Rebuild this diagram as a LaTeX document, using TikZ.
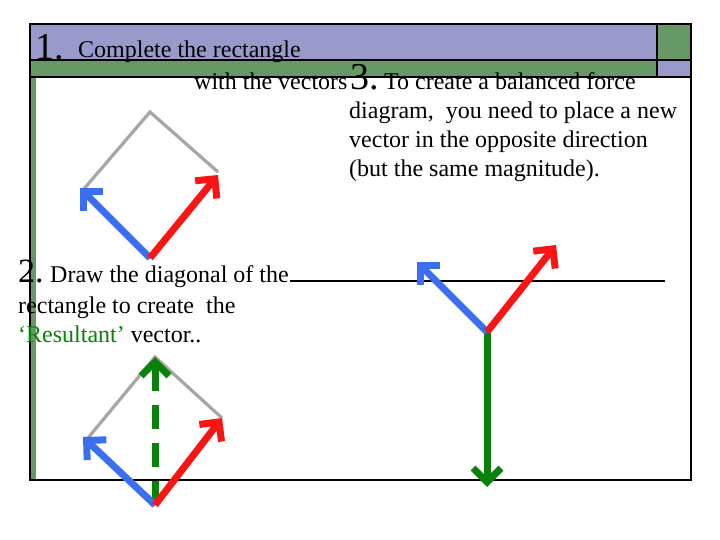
\documentclass[tikz,border=0pt]{standalone}
\usepackage{fontspec}
\setmainfont{Liberation Serif}
\usetikzlibrary{arrows.meta}
\definecolor{purp}{RGB}{153,153,204}
\definecolor{grn}{RGB}{102,153,102}
\definecolor{vblue}{RGB}{60,110,240}
\definecolor{vred}{RGB}{250,20,20}
\definecolor{vgreen}{RGB}{10,130,10}
\begin{document}
\begin{tikzpicture}[x=1pt,y=-1pt,
  tip/.style={-{Straight Barb[length=14pt,width=28pt,line width=7pt]}},
  vec/.style={line width=7pt,tip},
  edge/.style={draw=gray!70,line width=3.2pt},
  txt/.style={inner sep=0pt,anchor=base west,font=\fontsize{24}{26}\selectfont}]
\useasboundingbox (0,0) rectangle (720,540);
\fill[white] (0,0) rectangle (720,540);
\fill[purp] (30,24) rectangle (657,60);
\fill[grn] (657,24) rectangle (691,60);
\fill[grn] (30,60) rectangle (657,77);
\fill[purp] (657,60) rectangle (691,77);
\fill[grn] (30,77) rectangle (36,480);
\draw[line width=2.5pt] (30,24) rectangle (691,77);
\draw[line width=2.5pt] (30,60) -- (691,60) (657,24) -- (657,77);
\draw[line width=2.5pt] (30,77) -- (30,480) -- (691,480) -- (691,77);
\coordinate (hl) at (290,281); \coordinate (hr) at (665,281);
\draw[line width=2pt] (hl) -- (hr);
% text
\node[txt,font=\fontsize{38}{40}\selectfont] (n1) at (35,60) {1.};
\node[txt] (t1) at (78,58) {Complete the rectangle};
\node[txt] (t1b) at (194,90) {with the vectors};
\node[txt,font=\fontsize{38}{40}\selectfont] (n3) at (350,90) {3.};
\node[txt] (t3a) at (384,90) {To create a balanced force};
\node[txt] (t3b) at (349,119) {diagram,\ \ you need to place a new};
\node[txt] (t3c) at (349,148) {vector in the opposite direction};
\node[txt] (t3d) at (349,177) {(but the same magnitude).};
\node[txt,font=\fontsize{34}{36}\selectfont] (n2) at (18,282) {2.};
\node[txt] (t2a) at (50,282) {Draw the diagonal of the};
\node[txt] (t2b) at (18,313) {rectangle to create\ \ the};
\node[txt] (t2c) at (18,342) {\textcolor{vgreen}{‘Resultant’} vector..};
% diagram 1
\coordinate (o1) at (150,258); \coordinate (b1) at (80,188);
\coordinate (r1) at (218,175); \coordinate (g1) at (150,112);
\draw[edge] (83,190) -- (g1) -- (218,172);
\draw[vec,vblue] (o1) -- (b1);
\draw[vec,vred] (o1) -- (r1);
% diagram 2
\coordinate (o2) at (155,505); \coordinate (b2) at (83,437);
\coordinate (r2) at (222,418); \coordinate (g2) at (155,357);
\draw[edge] (88,438) -- (g2) -- (222,418);
\draw[vgreen,line width=7pt,dash pattern=on 24pt off 14pt] (o2) -- (155,390);
\draw[vgreen,line width=7pt,tip] (155,390) -- (g2);
\draw[vec,vblue] (o2) -- (b2);
\draw[vec,vred] (o2) -- (r2);
% diagram 3
\coordinate (o3) at (487,332);
\coordinate (b3) at (417,262); \coordinate (r3) at (556,245); \coordinate (d3) at (487,487);
\draw[vec,vgreen] (o3) -- (d3);
\draw[vec,vblue] (o3) -- (b3);
\draw[vec,vred] (o3) -- (r3);
\end{tikzpicture}
\end{document}
